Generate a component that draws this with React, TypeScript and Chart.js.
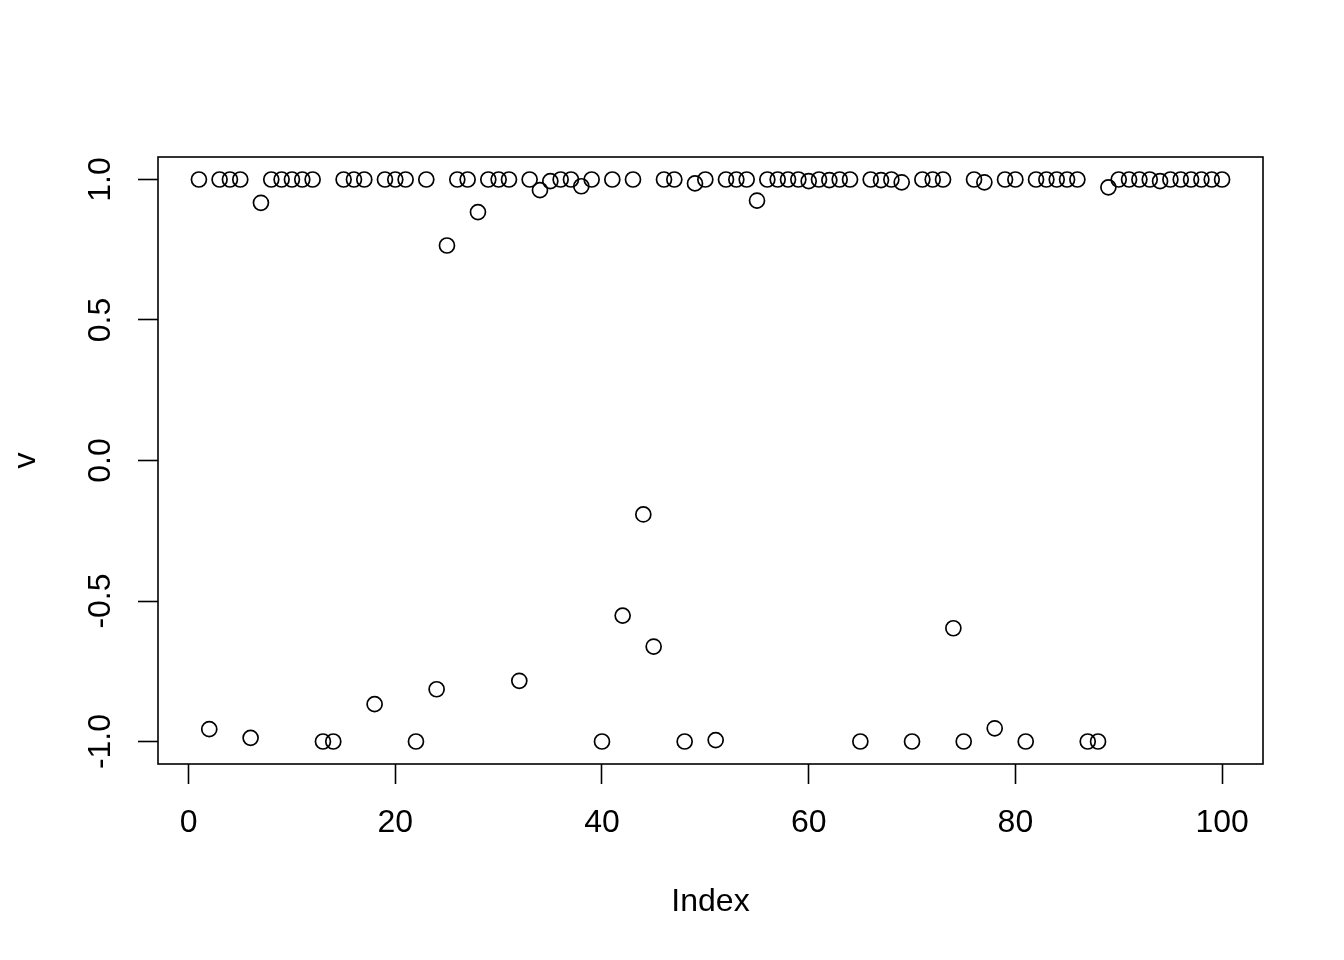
import React, { useEffect, useRef } from "react";
import { Chart, registerables } from "chart.js";

Chart.register(...registerables);

// Index (x) values
const indexValues = [
  1, 2, 3, 4, 5, 6, 7, 8, 9, 10,
  11, 12, 13, 14, 15, 16, 17, 18, 19, 20,
  21, 22, 23, 24, 25, 26, 27, 28, 29, 30,
  31, 32, 33, 34, 35, 36, 37, 38, 39, 40,
  41, 42, 43, 44, 45, 46, 47, 48, 49, 50,
  51, 52, 53, 54, 55, 56, 57, 58, 59, 60,
  61, 62, 63, 64, 65, 66, 67, 68, 69, 70,
  71, 72, 73, 74, 75, 76, 77, 78, 79, 80,
  81, 82, 83, 84, 85, 86, 87, 88, 89, 90,
  91, 92, 93, 94, 95, 96, 97, 98, 99, 100,
];

// Series v
const vValues = [
  1.0, -0.956, 1.0, 1.0, 1.0, -0.987, 0.917, 1.0, 1.0, 1.0,
  1.0, 1.0, -1.0, -1.0, 1.0, 1.0, 1.0, -0.867, 1.0, 1.0,
  1.0, -1.0, 1.0, -0.814, 0.765, 1.0, 1.0, 0.884, 1.0, 1.0,
  1.0, -0.784, 1.0, 0.962, 0.994, 1.0, 1.0, 0.976, 1.0, -1.0,
  1.0, -0.552, 1.0, -0.192, -0.662, 1.0, 1.0, -1.0, 0.986, 1.0,
  -0.995, 1.0, 1.0, 1.0, 0.925, 1.0, 1.0, 1.0, 1.0, 0.994,
  1.0, 0.998, 1.0, 1.0, -1.0, 1.0, 0.998, 1.0, 0.99, -1.0,
  1.0, 1.0, 1.0, -0.597, -1.0, 1.0, 0.99, -0.953, 1.0, 1.0,
  -1.0, 1.0, 1.0, 1.0, 1.0, 1.0, -1.0, -1.0, 0.972, 1.0,
  1.0, 1.0, 1.0, 0.994, 1.0, 1.0, 1.0, 1.0, 1.0, 1.0,
];

const xTickValues = [0, 20, 40, 60, 80, 100];
const xTickLabels = ["0", "20", "40", "60", "80", "100"];
const yTickValues = [-1, -0.5, 0, 0.5, 1];
const yTickLabels = ["-1.0", "-0.5", "0.0", "0.5", "1.0"];

const xTitle = "Index";
const yTitle = "v";

const FONT = "'Liberation Sans', Arial, Helvetica, sans-serif";
const FONT_SIZE = 32;

const PAD_LEFT = 6.8;
const PAD_BOTTOM = 38.3;

const boxPlugin = {
  id: "rbox",
  afterDraw(chart: any) {
    const { ctx, chartArea } = chart;
    ctx.save();
    ctx.strokeStyle = "#000";
    ctx.lineWidth = 1.6;
    ctx.strokeRect(
      chartArea.left,
      chartArea.top,
      chartArea.right - chartArea.left,
      chartArea.bottom - chartArea.top
    );
    ctx.restore();
  },
};

export default function App() {
  const canvasRef = useRef<HTMLCanvasElement | null>(null);

  useEffect(() => {
    const canvas = canvasRef.current;
    if (!canvas) return;
    const data = vValues.map((y, i) => ({ x: indexValues[i], y }));

    const chart = new Chart(canvas, {
      type: "scatter",
      data: {
        datasets: [
          {
            data,
            pointStyle: "circle",
            pointRadius: 7.5,
            pointHoverRadius: 7.5,
            pointBorderWidth: 1.7,
            pointBorderColor: "#000",
            pointBackgroundColor: "rgba(0,0,0,0)",
            borderColor: "#000",
            backgroundColor: "rgba(0,0,0,0)",
            showLine: false,
          },
        ],
      },
      plugins: [boxPlugin],
      options: {
        animation: false,
        responsive: false,
        devicePixelRatio: 1,
        events: [],
        layout: {
          padding: { top: 157, right: 81, bottom: PAD_BOTTOM, left: PAD_LEFT },
        },
        plugins: {
          legend: { display: false },
          tooltip: { enabled: false },
          title: { display: false },
        },
        scales: {
          x: {
            type: "linear",
            position: "bottom",
            min: -2.96,
            max: 103.96,
            afterBuildTicks: (scale: any) => {
              scale.ticks = xTickValues.map((value) => ({ value }));
            },
            afterFit: (scale: any) => {
              scale.height = 960 - PAD_BOTTOM - 764;
            },
            grid: {
              display: true,
              drawOnChartArea: false,
              drawTicks: true,
              tickLength: 20,
              tickWidth: 1.6,
              tickColor: "#000",
              color: "#000",
            },
            border: { display: false },
            ticks: {
              autoSkip: false,
              maxRotation: 0,
              minRotation: 0,
              padding: 19.6,
              color: "#000",
              font: { family: FONT, size: FONT_SIZE },
              callback: (value: any) => {
                const idx = xTickValues.indexOf(Number(value));
                return idx >= 0 ? xTickLabels[idx] : "";
              },
            },
            title: {
              display: true,
              text: xTitle,
              color: "#000",
              padding: 0,
              font: { family: FONT, size: FONT_SIZE },
            },
          },
          y: {
            type: "linear",
            position: "left",
            min: -1.08,
            max: 1.08,
            afterBuildTicks: (scale: any) => {
              scale.ticks = yTickValues.map((value) => ({ value }));
            },
            afterFit: (scale: any) => {
              scale.width = 158 - PAD_LEFT;
            },
            grid: {
              display: true,
              drawOnChartArea: false,
              drawTicks: true,
              tickLength: 20,
              tickWidth: 1.6,
              tickColor: "#000",
              color: "#000",
            },
            border: { display: false },
            ticks: {
              autoSkip: false,
              minRotation: 90,
              maxRotation: 90,
              crossAlign: "center",
              padding: 9.6,
              color: "#000",
              font: { family: FONT, size: FONT_SIZE },
              callback: (value: any) => {
                const idx = yTickValues.indexOf(Number(value));
                return idx >= 0 ? yTickLabels[idx] : "";
              },
            },
            title: {
              display: true,
              text: yTitle,
              color: "#000",
              padding: 0,
              font: { family: FONT, size: FONT_SIZE },
            },
          },
        },
      } as any,
    });

    return () => {
      chart.destroy();
    };
  }, []);

  return (
    <div
      style={{
        position: "absolute",
        left: 0,
        top: 0,
        width: 1344,
        height: 960,
        background: "#fff",
      }}
    >
      <canvas ref={canvasRef} width={1344} height={960} style={{ display: "block" }} />
    </div>
  );
}
